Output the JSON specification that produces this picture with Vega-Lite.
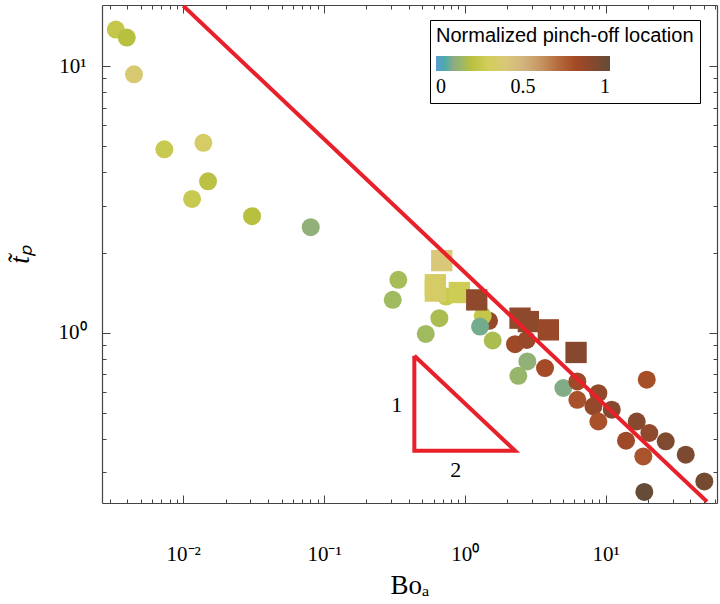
{
  "$schema": "https://vega.github.io/schema/vega-lite/v6.json",
  "width": 615,
  "height": 498,
  "autosize": {"type": "none"},
  "padding": {"left": 102, "right": 3, "top": 5, "bottom": 101},
  "background": "white",
  "config": {
    "view": {"stroke": null},
    "axis": {"grid": false, "domainColor": "#444", "tickColor": "#444", "domainWidth": 1.2, "tickWidth": 1, "labelFont": "Liberation Serif", "labelFontSize": 21, "labelColor": "black", "titleFont": "Liberation Serif", "titleFontWeight": "normal", "titleColor": "black", "titleFontSize": 27}
  },
  "datasets": {
    "pts": [
      {"Bo": 0.00332, "t": 13.72, "loc": 0.25, "m": "circle"},
      {"Bo": 0.00397, "t": 12.81, "loc": 0.2, "m": "circle"},
      {"Bo": 0.00447, "t": 9.33, "loc": 0.38, "m": "circle"},
      {"Bo": 0.00734, "t": 4.88, "loc": 0.26, "m": "circle"},
      {"Bo": 0.0139, "t": 5.16, "loc": 0.34, "m": "circle"},
      {"Bo": 0.015, "t": 3.7, "loc": 0.21, "m": "circle"},
      {"Bo": 0.01155, "t": 3.18, "loc": 0.26, "m": "circle"},
      {"Bo": 0.0308, "t": 2.74, "loc": 0.2, "m": "circle"},
      {"Bo": 0.0804, "t": 2.49, "loc": 0.12, "m": "circle"},
      {"Bo": 0.337, "t": 1.58, "loc": 0.17, "m": "circle"},
      {"Bo": 0.3075, "t": 1.33, "loc": 0.16, "m": "circle"},
      {"Bo": 0.7355, "t": 1.368, "loc": 0.26, "m": "circle"},
      {"Bo": 0.659, "t": 1.135, "loc": 0.18, "m": "circle"},
      {"Bo": 0.5275, "t": 0.991, "loc": 0.16, "m": "circle"},
      {"Bo": 1.486, "t": 1.109, "loc": 0.85, "m": "circle"},
      {"Bo": 1.34, "t": 1.158, "loc": 0.25, "m": "circle"},
      {"Bo": 1.282, "t": 1.056, "loc": 0.08, "m": "circle"},
      {"Bo": 1.578, "t": 0.936, "loc": 0.18, "m": "circle"},
      {"Bo": 2.273, "t": 0.907, "loc": 0.82, "m": "circle"},
      {"Bo": 2.752, "t": 0.941, "loc": 0.84, "m": "circle"},
      {"Bo": 2.779, "t": 0.781, "loc": 0.12, "m": "circle"},
      {"Bo": 2.399, "t": 0.69, "loc": 0.14, "m": "circle"},
      {"Bo": 3.711, "t": 0.738, "loc": 0.8, "m": "circle"},
      {"Bo": 5.008, "t": 0.621, "loc": 0.09, "m": "circle"},
      {"Bo": 6.295, "t": 0.657, "loc": 0.82, "m": "circle"},
      {"Bo": 6.295, "t": 0.561, "loc": 0.78, "m": "circle"},
      {"Bo": 8.877, "t": 0.594, "loc": 0.86, "m": "circle"},
      {"Bo": 8.19, "t": 0.53, "loc": 0.85, "m": "circle"},
      {"Bo": 11.05, "t": 0.515, "loc": 0.9, "m": "circle"},
      {"Bo": 8.877, "t": 0.465, "loc": 0.78, "m": "circle"},
      {"Bo": 19.59, "t": 0.667, "loc": 0.79, "m": "circle"},
      {"Bo": 16.63, "t": 0.465, "loc": 0.9, "m": "circle"},
      {"Bo": 20.44, "t": 0.421, "loc": 0.87, "m": "circle"},
      {"Bo": 13.96, "t": 0.394, "loc": 0.82, "m": "circle"},
      {"Bo": 26.72, "t": 0.392, "loc": 0.92, "m": "circle"},
      {"Bo": 18.52, "t": 0.344, "loc": 0.77, "m": "circle"},
      {"Bo": 37.06, "t": 0.349, "loc": 0.93, "m": "circle"},
      {"Bo": 50.23, "t": 0.277, "loc": 0.95, "m": "circle"},
      {"Bo": 18.83, "t": 0.253, "loc": 1.0, "m": "circle"},
      {"Bo": 0.6856, "t": 1.866, "loc": 0.4, "m": "square"},
      {"Bo": 0.6173, "t": 1.515, "loc": 0.34, "m": "square"},
      {"Bo": 0.6173, "t": 1.434, "loc": 0.34, "m": "square"},
      {"Bo": 0.914, "t": 1.416, "loc": 0.28, "m": "square"},
      {"Bo": 1.215, "t": 1.329, "loc": 0.87, "m": "square"},
      {"Bo": 2.466, "t": 1.135, "loc": 0.86, "m": "square"},
      {"Bo": 2.825, "t": 1.102, "loc": 0.88, "m": "square"},
      {"Bo": 3.917, "t": 1.026, "loc": 0.84, "m": "square"},
      {"Bo": 6.165, "t": 0.844, "loc": 0.9, "m": "square"}
    ],
    "fit": [
      {"Bo": 0.01, "t": 16.85},
      {"Bo": 52.5, "t": 0.2326}
    ],
    "tri": [
      {"Bo": 0.4378, "t": 0.82, "o": 1},
      {"Bo": 0.4378, "t": 0.3614, "o": 2},
      {"Bo": 2.273, "t": 0.3614, "o": 3},
      {"Bo": 0.4378, "t": 0.82, "o": 4}
    ],
    "lbl": [
      {"Bo": 0.328, "t": 0.534, "s": "1"},
      {"Bo": 0.862, "t": 0.307, "s": "2"}
    ]
  },
  "resolve": {"axis": {"x": "independent", "y": "independent"}},
  "layer": [
    {
      "data": {"name": "pts"},
      "mark": {"type": "point", "filled": true, "opacity": 1, "strokeWidth": 0},
      "encoding": {
        "x": {
          "field": "Bo", "type": "quantitative",
          "scale": {"type": "log", "domain": [0.002648, 61.8], "nice": false},
          "axis": {
            "orient": "bottom", "title": "Bo\u2090", "titlePadding": 4,
            "values": [0.003,0.004,0.005,0.006,0.007,0.008,0.009,0.01,0.02,0.03,0.04,0.05,0.06,0.07,0.08,0.09,0.1,0.2,0.3,0.4,0.5,0.6,0.7,0.8,0.9,1,2,3,4,5,6,7,8,9,10,20,30,40,50,60],
            "labelExpr": "datum.value == 0.01 ? '10\u207b\u00b2' : datum.value == 0.1 ? '10\u207b\u00b9' : datum.value == 1 ? '10\u2070' : datum.value == 10 ? '10\u00b9' : ''",
            "tickSize": {"condition": {"test": "datum.value == 0.01 || datum.value == 0.1 || datum.value == 1 || datum.value == 10", "value": -8}, "value": -4},
            "labelPadding": 48, "labelFlush": false, "labelOverlap": false
          }
        },
        "y": {
          "field": "t", "type": "quantitative",
          "scale": {"type": "log", "domain": [0.23, 16.97], "nice": false},
          "axis": {
            "orient": "left", "title": "t\u0303\u209a", "titleFontStyle": "italic", "titlePadding": 24,
            "values": [0.3,0.4,0.5,0.6,0.7,0.8,0.9,1,2,3,4,5,6,7,8,9,10],
            "labelExpr": "datum.value == 1 ? '10\u2070' : datum.value == 10 ? '10\u00b9' : ''",
            "tickSize": {"condition": {"test": "datum.value == 1 || datum.value == 10", "value": -8}, "value": -4},
            "labelPadding": 24, "labelOverlap": false, "labelFlush": false
          }
        },
        "shape": {"field": "m", "type": "nominal", "scale": {"domain": ["circle", "square"], "range": ["circle", "square"]}, "legend": null},
        "size": {"condition": {"test": "datum.m == 'square'", "value": 455}, "value": 324},
        "color": {
          "field": "loc", "type": "quantitative",
          "scale": {"domain": [0,0.1,0.2,0.3,0.4,0.5,0.6,0.7,0.8,0.9,1], "range": ["#5b9bd5","#8eab82","#b8c040","#d2cf5a","#d8c878","#d2b47e","#c69664","#b66c3e","#a44a26","#86482e","#644c38"]},
          "legend": {
            "orient": "none", "legendX": 328, "legendY": 15,
            "direction": "horizontal",
            "title": "Normalized pinch-off location",
            "titleFont": "Liberation Sans", "titleFontSize": 20, "titleFontWeight": "normal", "titleColor": "black", "titlePadding": 10, "titleLimit": 500,
            "gradientLength": 174, "gradientThickness": 15, "gradientStrokeWidth": 0,
            "values": [0, 0.5, 1], "format": "~g",
            "labelFont": "Liberation Serif", "labelFontSize": 20, "labelColor": "black", "labelOffset": 6,
            "strokeColor": "black", "fillColor": "white", "padding": 6, "cornerRadius": 0
          }
        }
      }
    },
    {
      "data": {"name": "fit"},
      "mark": {"type": "line", "color": "#e8202a", "strokeWidth": 4, "clip": true},
      "encoding": {
        "x": {
          "field": "Bo", "type": "quantitative",
          "axis": {
            "orient": "top", "title": null, "labels": false,
            "values": [0.003,0.004,0.005,0.006,0.007,0.008,0.009,0.01,0.02,0.03,0.04,0.05,0.06,0.07,0.08,0.09,0.1,0.2,0.3,0.4,0.5,0.6,0.7,0.8,0.9,1,2,3,4,5,6,7,8,9,10,20,30,40,50,60],
            "tickSize": {"condition": {"test": "datum.value == 0.01 || datum.value == 0.1 || datum.value == 1 || datum.value == 10", "value": -8}, "value": -4}
          }
        },
        "y": {
          "field": "t", "type": "quantitative",
          "axis": {
            "orient": "right", "title": null, "labels": false,
            "values": [0.3,0.4,0.5,0.6,0.7,0.8,0.9,1,2,3,4,5,6,7,8,9,10],
            "tickSize": {"condition": {"test": "datum.value == 1 || datum.value == 10", "value": -8}, "value": -4}
          }
        }
      }
    },
    {
      "data": {"name": "tri"},
      "mark": {"type": "line", "color": "#e8202a", "strokeWidth": 4, "strokeJoin": "miter"},
      "encoding": {
        "x": {"field": "Bo", "type": "quantitative", "axis": null},
        "y": {"field": "t", "type": "quantitative", "axis": null},
        "order": {"field": "o", "type": "quantitative"}
      }
    },
    {
      "data": {"name": "lbl"},
      "mark": {"type": "text", "font": "Liberation Serif", "fontSize": 22, "color": "black"},
      "encoding": {
        "x": {"field": "Bo", "type": "quantitative", "axis": null},
        "y": {"field": "t", "type": "quantitative", "axis": null},
        "text": {"field": "s", "type": "nominal"}
      }
    }
  ]
}
